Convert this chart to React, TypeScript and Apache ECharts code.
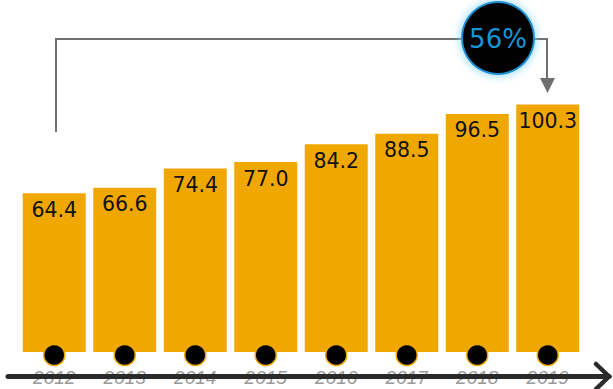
import React, { useEffect, useRef } from "react";
import * as echarts from "echarts";

const years = ["2012", "2013", "2014", "2015", "2016", "2017", "2018", "2019"];
const values = [64.4, 66.6, 74.4, 77.0, 84.2, 88.5, 96.5, 100.3];
const growthLabel = "56%";

const BAR = "#F0A800";

export default function App() {
  const ref = useRef<HTMLDivElement>(null);
  useEffect(() => {
    if (!ref.current) return;
    const chart = echarts.init(ref.current, null, { renderer: "svg" });
    const gray = "#6f6f6f";
    chart.setOption({
      animation: false,
      grid: { left: 19, right: 30, top: 56, bottom: 37 },
      xAxis: {
        type: "category",
        data: years,
        z: 1,
        axisLine: { show: false },
        axisTick: { show: false },
        axisLabel: {
          margin: 16,
          fontFamily: "Liberation Sans",
          fontStyle: "italic",
          fontSize: 19,
          color: "#9a9a9a",
        },
      },
      yAxis: {
        type: "value",
        min: 0,
        max: 120,
        show: false,
        splitLine: { show: false },
      },
      series: [
        {
          type: "bar",
          data: values,
          barWidth: 63,
          itemStyle: { color: BAR },
          label: {
            show: true,
            position: "insideTop",
            distance: 6,
            formatter: (p: any) => p.value.toFixed(1),
            fontFamily: "DejaVu Sans",
            fontSize: 20.5,
            color: "#111",
          },
        },
        {
          type: "scatter",
          data: years.map(() => 0),
          symbol: "circle",
          symbolSize: 21,
          symbolOffset: [0, 3],
          z: 5,
          itemStyle: { color: "#000", opacity: 1, borderColor: BAR, borderWidth: 1.5 },
        },
      ],
      graphic: [
        {
          type: "line",
          z: 100,
          shape: { x1: 8, y1: 376.5, x2: 609, y2: 376.5 },
          style: { stroke: "#2a2a2a", lineWidth: 5, lineCap: "round" },
        },
        {
          type: "polyline",
          z: 100,
          shape: { points: [[596, 364], [609, 376.5], [596, 389]] },
          style: { stroke: "#2a2a2a", lineWidth: 4.5, fill: null, lineCap: "round", lineJoin: "miter" },
        },
        {
          type: "polyline",
          z: 100,
          shape: { points: [[56, 132], [56, 39], [547, 39], [547, 80]] },
          style: { stroke: gray, lineWidth: 2, fill: null },
        },
        {
          type: "polygon",
          z: 100,
          shape: { points: [[540, 78], [555, 78], [547.5, 93]] },
          style: { fill: gray },
        },
        {
          type: "circle",
          z: 101,
          shape: { cx: 498, cy: 38, r: 36 },
          style: {
            fill: "#000",
            stroke: "#1b8fd2",
            lineWidth: 2,
            shadowBlur: 10,
            shadowColor: "#7fd3f7",
          },
        },
        {
          type: "text",
          z: 102,
          x: 498,
          y: 39,
          style: {
            text: growthLabel,
            fontFamily: "DejaVu Sans",
            fontSize: 26,
            fill: "#1a94d4",
            align: "center",
            verticalAlign: "middle",
          },
        },
      ],
    });
    return () => chart.dispose();
  }, []);
  return <div ref={ref} style={{ width: 613, height: 389, position: "absolute", left: 0, top: 0 }} />;
}
